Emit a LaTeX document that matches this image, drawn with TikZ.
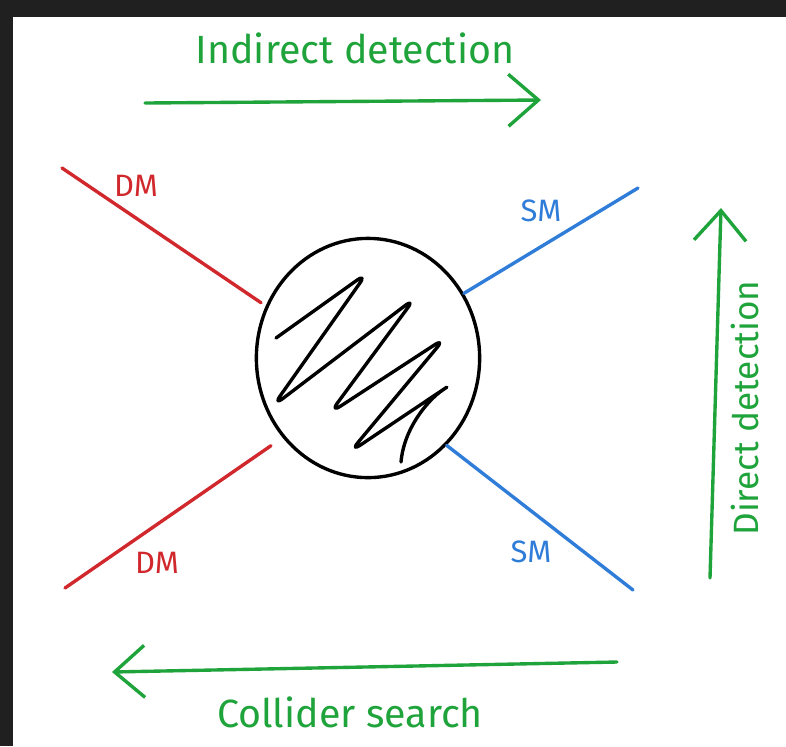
\documentclass[tikz,border=0pt]{standalone}
\usepackage{fontspec}
\setmainfont{Fira Sans}
\usepackage{tikz}
\usetikzlibrary{arrows.meta,shapes.geometric}
\definecolor{sketchgreen}{HTML}{1FA33B}
\definecolor{sketchred}{HTML}{D0282C}
\definecolor{sketchblue}{HTML}{2F7DD9}
\definecolor{sketchframe}{HTML}{202020}
\tikzset{
  pen/.style={
    line width=2.4pt,
    line cap=round,
    line join=round
  },
  dmleg/.style={pen, draw=sketchred},
  smleg/.style={pen, draw=sketchblue},
  probe/.style={
    pen,
    draw=sketchgreen,
    -{Straight Barb[length=7.5mm,width=13mm,line width=2.4pt]}
  },
  probelabel/.style={
    text=sketchgreen,
    font=\fontsize{28}{32}\selectfont,
    inner sep=0pt
  },
  leglabel/.style={
    font=\fontsize{22}{26}\selectfont,
    inner sep=0pt
  }
}

\begin{document}
\begin{tikzpicture}[x=0.025cm,y=-0.025cm]
\useasboundingbox (0,0) rectangle (786,746);
\fill[white] (0,0) rectangle (786,746);
\fill[sketchframe] (0,0) rectangle (786,17);
\fill[sketchframe] (0,0) rectangle (13,746);

% interaction blob
\node[ellipse, draw, pen, minimum width=5.58cm, minimum height=5.98cm,
  inner sep=0pt] (blob) at (368,358) {};
\draw[pen, rounded corners=9pt] (276,338) -- (367,273) -- (273,406)
  -- (415,298) -- (330,413) -- (445,338) -- (350,452) -- (453,383)
  .. controls (428,400) and (404,428) .. (401,462);

% outer ends of the legs
\coordinate (dmin) at (62,168);
\coordinate (dmout) at (65,588);
\coordinate (smin) at (638,188);
\coordinate (smout) at (633,590);

\draw[dmleg, shorten >=4pt] (dmin) -- (blob.153);
\draw[dmleg, shorten >=10pt] (dmout) -- (blob.223);
\draw[smleg] (smin) -- (blob.34);
\draw[smleg] (smout) -- (blob.-48);

\node[leglabel, text=sketchred] (dmtop) at (136,186) {DM};
\node[leglabel, text=sketchred] (dmbot) at (157,563) {DM};
\node[leglabel, text=sketchblue] (smtop) at (541,211) {SM};
\node[leglabel, text=sketchblue] (smbot) at (531,552) {SM};

% detection channels
\coordinate (indA) at (145,103);
\coordinate (indB) at (541,100);
\coordinate (dirA) at (710,578);
\coordinate (dirB) at (721,208);
\coordinate (colA) at (617,662);
\coordinate (colB) at (112,672);

\draw[probe] (indA) -- (indB);
\draw[probe] (dirA) -- (dirB);
\draw[probe] (colA) -- (colB);

\node[probelabel] (indirect) at (355,48) {Indirect detection};
\node[probelabel, rotate=90, font=\fontsize{25}{29}\selectfont]
  (direct) at (745,408) {Direct detection};
\node[probelabel] (collider) at (350,712) {Collider search};
\end{tikzpicture}
\end{document}
